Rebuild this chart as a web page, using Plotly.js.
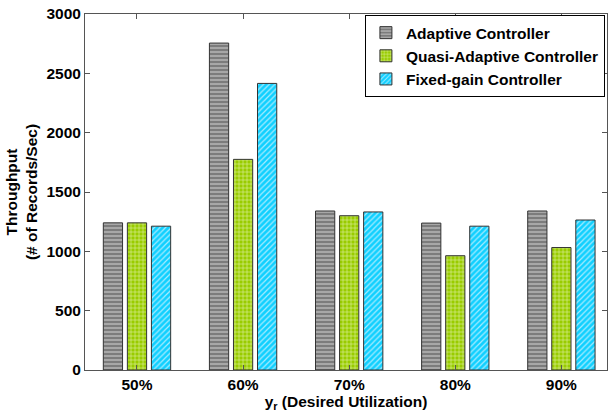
<!DOCTYPE html>
<html>
<head>
<meta charset="utf-8">
<script src="https://cdn.plot.ly/plotly-3.0.1.min.js"></script>
<style>html,body{margin:0;padding:0;background:#fff}#chart{width:608px;height:412px}</style>
</head>
<body>
<div id="chart"></div>
<script>
const categories = ['50%', '60%', '70%', '80%', '90%'];
const seriesNames = ['Adaptive Controller', 'Quasi-Adaptive Controller', 'Fixed-gain Controller'];
const adaptive = [1240, 2755, 1340, 1238, 1340];
const quasiAdaptive = [1240, 1775, 1300, 963, 1032];
const fixedGain = [1212, 2415, 1332, 1212, 1264];

const FAMILY = 'Liberation Sans, Arial, sans-serif';
const bold = (size) => ({family: FAMILY, size: size, color: '#000', weight: 'bold'});

function trace(name, y, bg, fg, shape, size, solidity) {
  return {
    type: 'bar', name: name, x: categories, y: y,
    marker: {
      color: bg,
      line: {color: '#333', width: 1},
      pattern: {shape: shape, bgcolor: bg, fgcolor: fg, size: size, solidity: solidity, fillmode: 'replace'}
    },
    hoverinfo: 'skip'
  };
}

const data = [
  trace(seriesNames[0], adaptive, '#7c7c7c', '#c4c4c4', '-', 4, 0.3),
  trace(seriesNames[1], quasiAdaptive, '#99cc00', '#e4f2b0', '+', 4, 0.25),
  trace(seriesNames[2], fixedGain, '#10d0ff', '#a8ecff', '/', 4, 0.3)
];

const layout = {
  width: 608, height: 412,
  margin: {l: 85, r: 1, t: 14, b: 42},
  paper_bgcolor: '#fff', plot_bgcolor: '#fff',
  font: bold(15.5),
  barmode: 'group', bargap: 0.32, bargroupgap: 0.2,
  showlegend: true,
  legend: {
    x: 0.996, xanchor: 'right', y: 0.997, yanchor: 'top',
    bgcolor: '#fff', bordercolor: '#000', borderwidth: 1,
    font: bold(15.5),
    tracegroupgap: 0, itemwidth: 30
  },
  xaxis: {
    type: 'category', range: [-0.49, 4.43],
    showline: true, linecolor: '#555', linewidth: 1, mirror: 'ticks',
    ticks: 'inside', ticklen: 5, tickcolor: '#555',
    showgrid: false, zeroline: false,
    tickfont: bold(15.5),
    title: {text: 'y<sub>r</sub> (Desired Utilization)', standoff: 2, font: bold(15.5)}
  },
  yaxis: {
    range: [0, 3000], dtick: 500,
    showline: true, linecolor: '#555', linewidth: 1, mirror: 'ticks',
    ticks: 'inside', ticklen: 5, tickcolor: '#555',
    showgrid: false, zeroline: false,
    tickfont: bold(15.5),
    title: {text: 'Throughput<br>(# of Records/Sec)', standoff: 4, font: bold(15.5)}
  }
};

Plotly.newPlot('chart', data, layout, {staticPlot: true, displayModeBar: false});
</script>
</body>
</html>
